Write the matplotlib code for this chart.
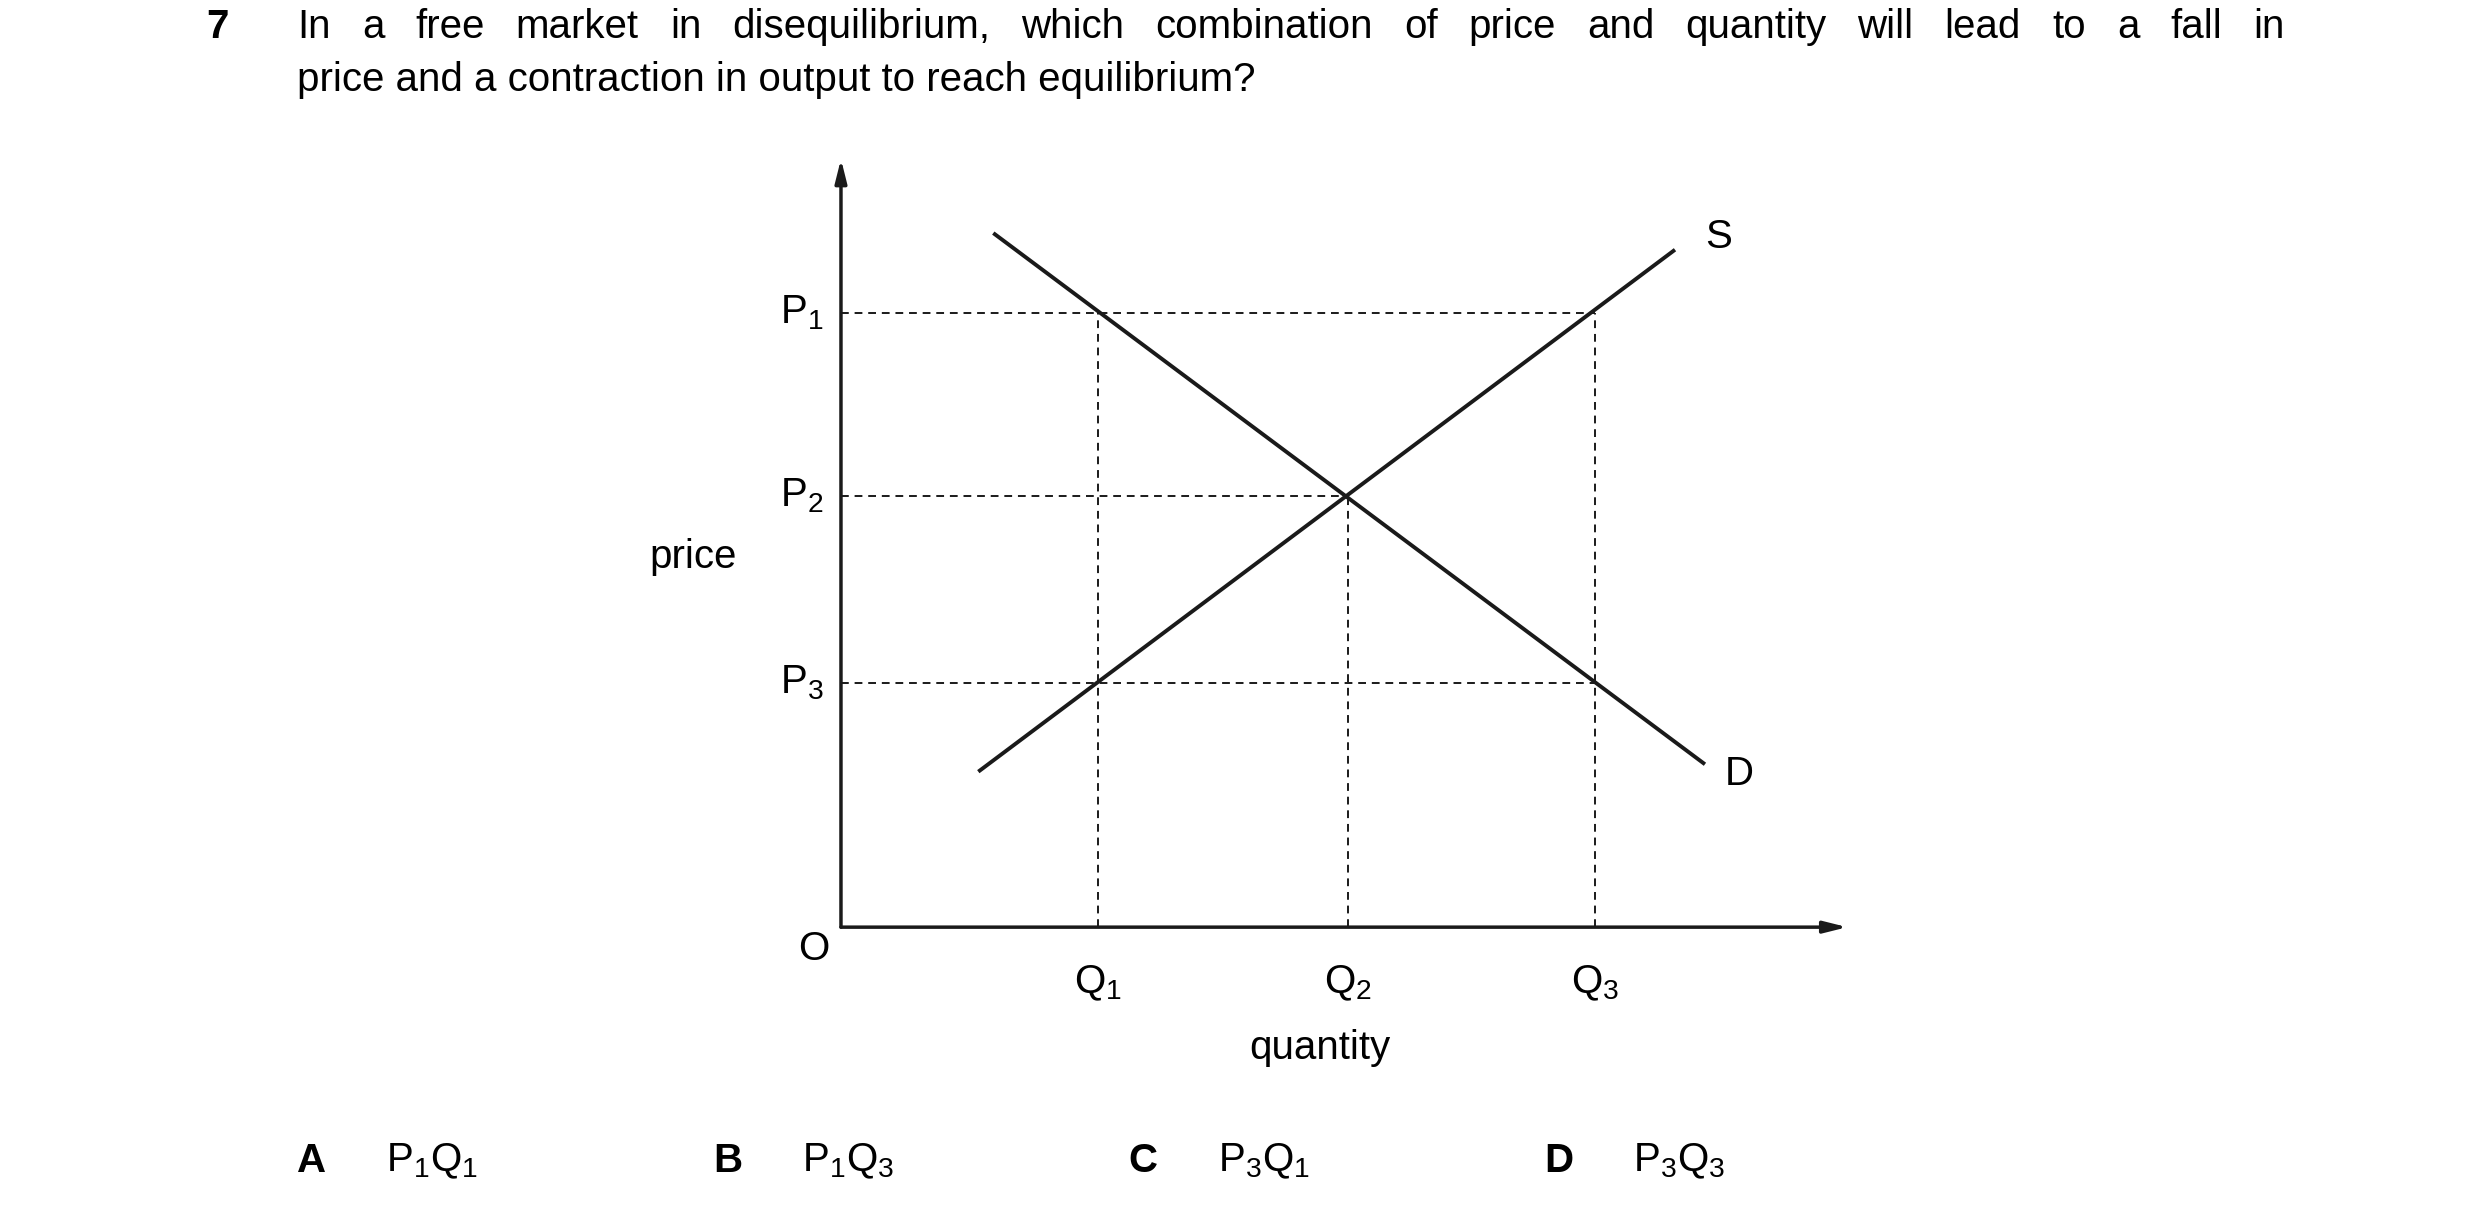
import matplotlib.pyplot as plt

plt.rcParams['font.family'] = ['Liberation Sans', 'DejaVu Sans']
plt.rcParams['mathtext.fontset'] = 'custom'
plt.rcParams['mathtext.rm'] = 'Liberation Sans'
plt.rcParams['mathtext.it'] = 'Liberation Sans'

# data (economic units)
q_vals = [1.03, 2.03, 3.02]
q_labels = ['Q$_1$', 'Q$_2$', 'Q$_3$']
p_vals = [3.32, 2.33, 1.32]
p_labels = ['P$_1$', 'P$_2$', 'P$_3$']
demand_x = [0.61, 3.46]
demand_y = [3.75, 0.88]
supply_x = [0.55, 3.34]
supply_y = [0.84, 3.66]
options = [('A', 'P$_1$Q$_1$'), ('B', 'P$_1$Q$_3$'), ('C', 'P$_3$Q$_1$'), ('D', 'P$_3$Q$_3$')]

W, H = 1560, 764  # layout reference units
fig = plt.figure(figsize=(24.8, 12.15), dpi=100)
FS = 29

def fx(x):
    return x / W

def fy(y):
    return 1 - y / H

# question text
fig.text(fx(130), fy(17), '7', fontsize=FS, fontweight='bold', va='center')
words = 'In a free market in disequilibrium, which combination of price and quantity will lead to a fall in'.split()
fig.canvas.draw()
r = fig.canvas.get_renderer()
objs = [fig.text(0, fy(17), w, fontsize=FS, va='center') for w in words]
widths = [o.get_window_extent(r).width / fig.bbox.width for o in objs]
left, right = fx(187), fx(1437)
gap = (right - left - sum(widths)) / (len(words) - 1)
x = left
for o, w in zip(objs, widths):
    o.set_x(x)
    x += w + gap
fig.text(left, fy(50), 'price and a contraction in output to reach equilibrium?', fontsize=FS, va='center')

# chart axes
ax = fig.add_axes([fx(529), fy(583), fx(1162 - 529), (583 - 100) / H])
ax.set_xlim(0, 4.03)
ax.set_ylim(0, 4.15)
ax.axis('off')
lc = '#1a1a1a'
ax.annotate('', xy=(4.03, 0), xytext=(0, 0), annotation_clip=False,
            arrowprops=dict(arrowstyle='-|>,head_length=1.4,head_width=0.35', color=lc, lw=2.5, shrinkA=0, shrinkB=0))
ax.annotate('', xy=(0, 4.15), xytext=(0, 0), annotation_clip=False,
            arrowprops=dict(arrowstyle='-|>,head_length=1.4,head_width=0.35', color=lc, lw=2.5, shrinkA=0, shrinkB=0))

for p in p_vals:
    right_q = max(q for q in q_vals if True) if p != p_vals[1] else q_vals[1]
    ax.plot([0, right_q], [p, p], ls=(0, (4, 3)), color=lc, lw=1.4)
for q in q_vals:
    top = p_vals[0] if q != q_vals[1] else p_vals[1]
    ax.plot([q, q], [0, top], ls=(0, (4, 3)), color=lc, lw=1.4)

ax.plot(demand_x, demand_y, color=lc, lw=2.8, solid_capstyle='butt')
ax.plot(supply_x, supply_y, color=lc, lw=2.8, solid_capstyle='butt')

for p, lab in zip(p_vals, p_labels):
    ax.text(-0.07, p, lab, fontsize=FS, ha='right', va='center')
for q, lab in zip(q_vals, q_labels):
    ax.text(q, -0.2, lab, fontsize=FS, ha='center', va='top')
ax.text(-0.11, -0.12, 'O', fontsize=FS, ha='center', va='center')
ax.text(supply_x[1] + 0.12, supply_y[1] + 0.07, 'S', fontsize=FS, ha='left', va='center')
ax.text(demand_x[1] + 0.08, demand_y[1] - 0.05, 'D', fontsize=FS, ha='left', va='center')
fig.text(fx(436), fy(350), 'price', fontsize=FS, ha='center', va='center')
fig.text(fx(830), fy(659), 'quantity', fontsize=FS, ha='center', va='center')

# answer options
for i, (letter, txt) in enumerate(options):
    x0 = 187 + i * 261.5
    fig.text(fx(x0), fy(730), letter, fontsize=FS, fontweight='bold', va='center')
    fig.text(fx(x0 + 56), fy(730), txt, fontsize=FS, va='center')

fig.savefig('out.png', dpi=100, facecolor='white')
